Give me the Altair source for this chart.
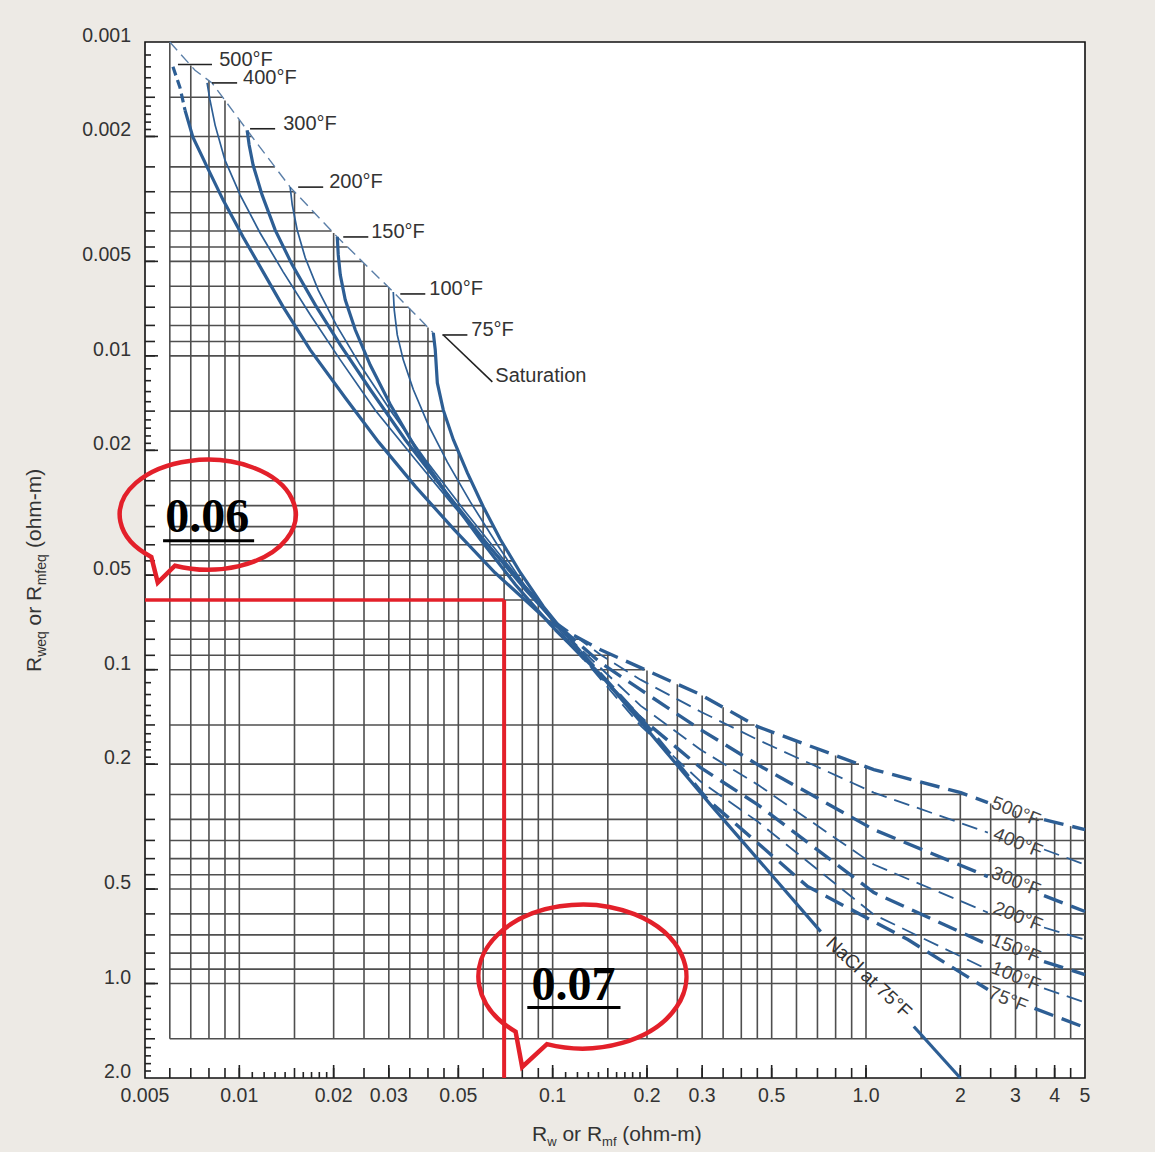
import numpy as np
import pandas as pd
import altair as alt

W, H = 940, 1036
BLUE = "#2d5e94"
GRIDC = "#4f4f4f"
RED = "#e3202a"
FONT = "Liberation Sans"
X_DOMAIN = [0.005, 5]
Y_DOMAIN = [0.001, 2.0]

# ---------------- axis labels ----------------
X_LABEL_VALUES = [0.005, 0.01, 0.02, 0.03, 0.05, 0.1, 0.2, 0.3, 0.5, 1.0, 2, 3, 4, 5]
X_LABEL_TEXT = ["0.005", "0.01", "0.02", "0.03", "0.05", "0.1", "0.2", "0.3", "0.5", "1.0", "2", "3", "4", "5"]
Y_LABEL_VALUES = [0.001, 0.002, 0.005, 0.01, 0.02, 0.05, 0.1, 0.2, 0.5, 1.0, 2.0]
Y_LABEL_TEXT = ["0.001", "0.002", "0.005", "0.01", "0.02", "0.05", "0.1", "0.2", "0.5", "1.0", "2.0"]

# ---------------- chart grid ----------------
GRID_X = [0.006, 0.007, 0.008, 0.009, 0.01, 0.015, 0.02, 0.025, 0.03, 0.035, 0.04, 0.045,
          0.05, 0.06, 0.07, 0.08, 0.09, 0.1, 0.15, 0.2, 0.25, 0.3, 0.35, 0.4, 0.45, 0.5,
          0.6, 0.7, 0.8, 0.9, 1.0, 1.5, 2.0, 2.5, 3.0, 3.5, 4.0, 4.5]
GRID_Y = [0.0015, 0.002, 0.0025, 0.003, 0.0035, 0.004, 0.0045, 0.005, 0.006, 0.007, 0.008,
          0.009, 0.01, 0.015, 0.02, 0.025, 0.03, 0.035, 0.04, 0.045, 0.05, 0.06, 0.07, 0.08,
          0.09, 0.1, 0.15, 0.2, 0.25, 0.3, 0.35, 0.4, 0.45, 0.5, 0.6, 0.7, 0.8, 0.9, 1.0, 1.5]
MINOR_X = [0.011, 0.012, 0.013, 0.014, 0.016, 0.017, 0.018, 0.019,
           0.11, 0.12, 0.13, 0.14, 0.16, 0.17, 0.18, 0.19]
MINOR_Y = [0.0011, 0.0012, 0.0013, 0.0014, 0.0016, 0.0017, 0.0018, 0.0019,
           0.011, 0.012, 0.013, 0.014, 0.016, 0.017, 0.018, 0.019,
           0.11, 0.12, 0.13, 0.14, 0.16, 0.17, 0.18, 0.19,
           1.1, 1.2, 1.3, 1.4, 1.6, 1.7, 1.8, 1.9]

# ---------------- saturation line ----------------
SAT_X = [0.006, 0.00722, 0.00818, 0.01059, 0.01453, 0.02054, 0.031, 0.0416]
SAT_Y = [0.001, 0.00123, 0.00135, 0.00191, 0.0029, 0.00418, 0.00626, 0.00845]

# ---------------- temperature curves (Rw, Rweq) ----------------
T500_TOP_X = [0.00614, 0.00647, 0.00671]
T500_TOP_Y = [0.0012, 0.0014, 0.00165]
T500_SOLID_X = [0.00671, 0.00711, 0.00789, 0.00888, 0.01028, 0.01191, 0.0138, 0.01684, 0.02178,
                0.0278, 0.0365, 0.0485, 0.0655, 0.0835, 0.097]
T500_SOLID_Y = [0.00165, 0.00201, 0.0025, 0.00319, 0.00418, 0.0054, 0.00698, 0.00957, 0.0136,
                0.0188, 0.0261, 0.0358, 0.0491, 0.0612, 0.0703]
T500_DASH_X = [0.097, 0.1422, 0.1907, 0.2967, 0.451, 1.059, 2.008, 2.449]
T500_DASH_Y = [0.0703, 0.0864, 0.0985, 0.1201, 0.1519, 0.2082, 0.2465, 0.2652]
T500_END_X = [3.7, 5.0]
T500_END_Y = [0.3005, 0.3233]

T400_SOLID_X = [0.00789, 0.00806, 0.00837, 0.009, 0.01006, 0.01165, 0.0138, 0.01684, 0.021,
                0.02715, 0.03645, 0.0489, 0.0656, 0.0849, 0.102]
T400_SOLID_Y = [0.00135, 0.00153, 0.00184, 0.00238, 0.00307, 0.00406, 0.0054, 0.0074, 0.0103,
                0.0149, 0.0214, 0.0305, 0.0424, 0.0564, 0.0703]
T400_DASH_X = [0.102, 0.1422, 0.1907, 0.2967, 0.451, 1.059, 2.449]
T400_DASH_Y = [0.0703, 0.0896, 0.1076, 0.1361, 0.1671, 0.2465, 0.3304]
T400_END_X = [3.7, 5.0]
T400_END_Y = [0.374, 0.4178]

T300_SOLID_X = [0.01059, 0.01075, 0.01107, 0.01182, 0.01301, 0.01475, 0.01747, 0.021, 0.02617,
                0.03385, 0.04545, 0.061, 0.0819, 0.1059]
T300_SOLID_Y = [0.00191, 0.00213, 0.00247, 0.00307, 0.00397, 0.00513, 0.00688, 0.00923, 0.0128,
                0.0185, 0.0271, 0.0391, 0.0556, 0.0735]
T300_DASH_X = [0.1059, 0.1422, 0.1907, 0.2967, 0.451, 1.059, 2.449]
T300_DASH_Y = [0.0735, 0.095, 0.1158, 0.1553, 0.2007, 0.3233, 0.4564]
T300_END_X = [3.7, 5.0]
T300_END_Y = [0.5245, 0.5897]

T200_SOLID_X = [0.01453, 0.01475, 0.0153, 0.01623, 0.01786, 0.02039, 0.02432, 0.03033, 0.03922,
                0.05264, 0.07065, 0.0914, 0.1099]
T200_SOLID_Y = [0.0029, 0.0033, 0.00397, 0.00487, 0.00617, 0.00797, 0.0107, 0.0149, 0.0214,
                0.0314, 0.0453, 0.0621, 0.0774]
T200_DASH_X = [0.1099, 0.1907, 0.2967, 0.451, 1.059, 2.449]
T200_DASH_Y = [0.0774, 0.1302, 0.1798, 0.2324, 0.4178, 0.5941]
T200_END_X = [3.7, 5.0]
T200_END_Y = [0.663, 0.7244]

T150_SOLID_X = [0.02054, 0.02069, 0.021, 0.02178, 0.02344, 0.02617, 0.03033, 0.03645, 0.04545,
                0.0588, 0.0761, 0.0984, 0.114]
T150_SOLID_Y = [0.00418, 0.00477, 0.00552, 0.00663, 0.00826, 0.0107, 0.0143, 0.0196, 0.0271,
                0.0385, 0.0536, 0.0719, 0.0832]
T150_DASH_X = [0.114, 0.1907, 0.2967, 0.451, 1.059, 2.449]
T150_DASH_Y = [0.0832, 0.1422, 0.2052, 0.2691, 0.513, 0.7514]
T150_END_X = [3.7, 5.0]
T150_END_Y = [0.851, 0.9364]

T100_SOLID_X = [0.031, 0.03122, 0.03192, 0.03336, 0.03591, 0.0401, 0.04612, 0.0546, 0.0666,
                0.0831, 0.102, 0.1183]
T100_SOLID_Y = [0.00626, 0.00714, 0.00858, 0.0103, 0.0128, 0.0166, 0.0218, 0.0292, 0.04,
                0.0556, 0.0719, 0.0864]
T100_DASH_X = [0.1183, 0.1907, 0.2967, 0.451, 1.059, 2.449]
T100_DASH_Y = [0.0864, 0.1508, 0.2273, 0.3048, 0.603, 0.9027]
T100_END_X = [3.7, 5.0]
T100_END_Y = [1.037, 1.149]

T75_SOLID_X = [0.0416, 0.0422, 0.04285, 0.04478, 0.0482, 0.05344, 0.0601, 0.0681, 0.0789,
               0.0935, 0.1059, 0.1227]
T75_SOLID_Y = [0.00845, 0.00957, 0.0122, 0.0149, 0.0185, 0.0236, 0.0303, 0.0385, 0.0491,
               0.063, 0.0735, 0.0876]
T75_DASH_X = [0.1227, 0.1907, 0.3123, 0.6516, 1.36, 2.449]
T75_DASH_Y = [0.0876, 0.1422, 0.2594, 0.491, 0.7244, 1.045]
T75_END_X = [3.45, 5.0]
T75_END_Y = [1.2, 1.381]

NACL_X = [0.102, 0.1422, 0.1907, 0.319, 0.717]
NACL_Y = [0.0746, 0.1037, 0.1464, 0.2691, 0.6831]
NACL_END_X = [1.421, 2.0]
NACL_END_Y = [1.371, 2.0]

# ---------------- annotations ----------------
TOP_LABELS = ["500°F", "400°F", "300°F", "200°F", "150°F", "100°F", "75°F"]
TOP_LABEL_X = [0.00856, 0.0102, 0.0137, 0.01922, 0.02617, 0.0401, 0.0546]
TOP_LABEL_Y = [0.00118, 0.00135, 0.00189, 0.0029, 0.00418, 0.00635, 0.00858]
LEADER_X1 = [0.00637, 0.00818, 0.01082, 0.01541, 0.02146, 0.03264, 0.04446]
LEADER_X2 = [0.00818, 0.00984, 0.01301, 0.01852, 0.0258, 0.03922, 0.05344]

SAT_LABEL = "Saturation"
SAT_LEADER_X = [0.04478, 0.0642]
SAT_LEADER_Y = [0.00858, 0.0121]
SAT_LABEL_XY = [0.0656, 0.0121]

RIGHT_LABELS = ["500°F", "400°F", "300°F", "200°F", "150°F", "100°F", "75°F"]
RIGHT_X = [3.01, 3.055, 3.01, 3.055, 3.01, 3.01, 2.84]
RIGHT_Y = [0.283, 0.356, 0.473, 0.612, 0.774, 0.950, 1.125]

NACL_LABEL = "NaCl at 75°F"
NACL_LABEL_XY = [1.021, 0.957]

READ_RW = 0.07
READ_RWEQ = 0.06
BUBBLE_TEXT = ["0.06", "0.07"]
BUBBLE_X = [0.00794, 0.1245]
BUBBLE_Y = [0.0321, 0.950]
BUBBLE_TEXT_X = [0.0079, 0.1165]
BUBBLE_TEXT_Y = [0.03635, 1.125]
UNDERLINE_X1 = [0.00571, 0.083]
UNDERLINE_X2 = [0.01115, 0.1646]
UNDERLINE_Y = [0.0388, 1.192]

# ---------------- helpers ----------------
xs = alt.Scale(type="log", domain=X_DOMAIN, nice=False)
ys = alt.Scale(type="log", domain=Y_DOMAIN, reverse=True, nice=False)


def X(f):
    return alt.X(f, type="quantitative", scale=xs, axis=None)


def Y(f):
    return alt.Y(f, type="quantitative", scale=ys, axis=None)


env_curves = [
    (SAT_X, SAT_Y),
    (T500_TOP_X + T500_SOLID_X + T500_DASH_X + T500_END_X, T500_TOP_Y + T500_SOLID_Y + T500_DASH_Y + T500_END_Y),
    (T400_SOLID_X + T400_DASH_X + T400_END_X, T400_SOLID_Y + T400_DASH_Y + T400_END_Y),
    (T300_SOLID_X + T300_DASH_X + T300_END_X, T300_SOLID_Y + T300_DASH_Y + T300_END_Y),
    (T200_SOLID_X + T200_DASH_X + T200_END_X, T200_SOLID_Y + T200_DASH_Y + T200_END_Y),
    (T150_SOLID_X + T150_DASH_X + T150_END_X, T150_SOLID_Y + T150_DASH_Y + T150_END_Y),
    (T100_SOLID_X + T100_DASH_X + T100_END_X, T100_SOLID_Y + T100_DASH_Y + T100_END_Y),
    (T75_SOLID_X + T75_DASH_X + T75_END_X, T75_SOLID_Y + T75_DASH_Y + T75_END_Y),
]


def grid_top(xg):
    lxg = np.log10(xg)
    vals = []
    for cx, cy in env_curves:
        lx, ly = np.log10(cx), np.log10(cy)
        if lx[0] - 1e-6 <= lxg <= lx[-1] + 1e-6:
            vals.append(np.interp(lxg, lx, ly))
    return 10 ** min(vals) if vals else Y_DOMAIN[0]


def grid_right(yg):
    lyg = np.log10(yg)
    vals = []
    for cx, cy in env_curves:
        lx, ly = np.log10(cx), np.log10(cy)
        if ly[0] - 1e-6 <= lyg <= ly[-1] + 1e-6:
            vals.append(np.interp(lyg, ly, lx))
        elif lyg > ly[-1] and cx[-1] >= 4.99:
            vals.append(np.log10(X_DOMAIN[1]))
    return min(10 ** max(vals), X_DOMAIN[1]) if vals else X_DOMAIN[1]


GRID_BOTTOM = GRID_Y[-1]
GRID_LEFT = GRID_X[0]

vgrid = pd.DataFrame({"x": GRID_X, "y1": [grid_top(v) for v in GRID_X], "y2": GRID_BOTTOM})
hgrid = pd.DataFrame({"y": GRID_Y, "x1": GRID_LEFT, "x2": [grid_right(v) for v in GRID_Y]})

layers = []

# grid
layers.append(alt.Chart(vgrid).mark_rule(color=GRIDC, strokeWidth=1.6).encode(
    x=X("x"), y=Y("y1"), y2=alt.Y2("y2")))
layers.append(alt.Chart(hgrid).mark_rule(color=GRIDC, strokeWidth=1.6).encode(
    y=Y("y"), x=X("x1"), x2=alt.X2("x2")))

# tick labels (drawn through the scales)
xl = pd.DataFrame({"x": X_LABEL_VALUES, "t": X_LABEL_TEXT})
layers.append(alt.Chart(xl).mark_text(align="center", baseline="top", font=FONT, fontSize=19.5,
                                      color="#333333").encode(
    x=X("x"), y=alt.value(H + 9), text="t:N"))
yl = pd.DataFrame({"y": Y_LABEL_VALUES, "t": Y_LABEL_TEXT})
layers.append(alt.Chart(yl).mark_text(align="right", baseline="alphabetic", font=FONT, fontSize=19.5,
                                      color="#333333").encode(
    y=Y("y"), x=alt.value(-14), text="t:N"))

# inward ticks
major_x = pd.DataFrame({"x": X_LABEL_VALUES[1:-1]})
grid_tx = pd.DataFrame({"x": GRID_X})
minor_tx = pd.DataFrame({"x": MINOR_X})
for df, ln in [(major_x, 13), (grid_tx, 10), (minor_tx, 6)]:
    layers.append(alt.Chart(df).mark_rule(color="#222222", strokeWidth=1.6).encode(
        x=X("x"), y=alt.value(H), y2=alt.value(H - ln)))
major_y = pd.DataFrame({"y": Y_LABEL_VALUES[1:-1]})
grid_ty = pd.DataFrame({"y": GRID_Y})
minor_ty = pd.DataFrame({"y": MINOR_Y})
for df, ln in [(major_y, 13), (grid_ty, 10), (minor_ty, 6)]:
    layers.append(alt.Chart(df).mark_rule(color="#222222", strokeWidth=1.6).encode(
        y=Y("y"), x=alt.value(0), x2=alt.value(ln)))


def curve_df(parts):
    rows = []
    for name, cx, cy in parts:
        for i, (a, b) in enumerate(zip(cx, cy)):
            rows.append({"series": name, "ord": i, "x": a, "y": b})
    return pd.DataFrame(rows)


def line_layer(parts, width, dash=None, color=BLUE):
    kw = dict(color=color, strokeWidth=width)
    if dash is not None:
        kw["strokeDash"] = dash
    return alt.Chart(curve_df(parts)).mark_line(**kw).encode(
        x=X("x"), y=Y("y"), detail="series:N", order="ord:Q")


# saturation
layers.append(line_layer([("sat", SAT_X, SAT_Y)], 1.4, [11, 6], "#5b7fa8"))

thick_solid = [("500s", T500_SOLID_X, T500_SOLID_Y), ("300s", T300_SOLID_X, T300_SOLID_Y),
               ("150s", T150_SOLID_X, T150_SOLID_Y), ("75s", T75_SOLID_X, T75_SOLID_Y),
               ("nacl", NACL_X, NACL_Y), ("nacl2", NACL_END_X, NACL_END_Y)]
thin_solid = [("400s", T400_SOLID_X, T400_SOLID_Y), ("200s", T200_SOLID_X, T200_SOLID_Y),
              ("100s", T100_SOLID_X, T100_SOLID_Y)]
thick_dash = [("500d", T500_DASH_X, T500_DASH_Y), ("500e", T500_END_X, T500_END_Y),
              ("300d", T300_DASH_X, T300_DASH_Y), ("300e", T300_END_X, T300_END_Y),
              ("150d", T150_DASH_X, T150_DASH_Y), ("150e", T150_END_X, T150_END_Y),
              ("75d", T75_DASH_X, T75_DASH_Y), ("75e", T75_END_X, T75_END_Y)]
thin_dash = [("400d", T400_DASH_X, T400_DASH_Y), ("400e", T400_END_X, T400_END_Y),
             ("200d", T200_DASH_X, T200_DASH_Y), ("200e", T200_END_X, T200_END_Y),
             ("100d", T100_DASH_X, T100_DASH_Y), ("100e", T100_END_X, T100_END_Y)]

layers.append(line_layer(thin_solid, 1.7))
layers.append(line_layer(thick_solid, 3.2))
layers.append(line_layer(thin_dash, 1.8, [16, 8]))
layers.append(line_layer(thick_dash, 3.4, [20, 9]))
layers.append(line_layer([("500t", T500_TOP_X, T500_TOP_Y)], 3.2, [9, 5]))

# leaders and top labels
lead = pd.DataFrame({"x1": LEADER_X1, "x2": LEADER_X2, "y": TOP_LABEL_Y})
layers.append(alt.Chart(lead).mark_rule(color="#222222", strokeWidth=1.6).encode(
    x=X("x1"), x2=alt.X2("x2"), y=Y("y")))
tl = pd.DataFrame({"x": TOP_LABEL_X, "y": TOP_LABEL_Y, "t": TOP_LABELS})
layers.append(alt.Chart(tl).mark_text(align="left", baseline="alphabetic", font=FONT,
                                      fontSize=20, color="#333333", dx=1, dy=1).encode(
    x=X("x"), y=Y("y"), text="t:N"))
sl = pd.DataFrame({"x1": [SAT_LEADER_X[0]], "x2": [SAT_LEADER_X[1]],
                   "y1": [SAT_LEADER_Y[0]], "y2": [SAT_LEADER_Y[1]]})
layers.append(alt.Chart(sl).mark_rule(color="#222222", strokeWidth=1.6).encode(
    x=X("x1"), x2=alt.X2("x2"), y=Y("y1"), y2=alt.Y2("y2")))
st = pd.DataFrame({"x": [SAT_LABEL_XY[0]], "y": [SAT_LABEL_XY[1]], "t": [SAT_LABEL]})
layers.append(alt.Chart(st).mark_text(align="left", baseline="alphabetic", font=FONT,
                                      fontSize=20, color="#333333").encode(
    x=X("x"), y=Y("y"), text="t:N"))

# right labels
rl = pd.DataFrame({"x": RIGHT_X, "y": RIGHT_Y, "t": RIGHT_LABELS})
layers.append(alt.Chart(rl).mark_text(align="center", baseline="middle", font=FONT,
                                      fontSize=19, color="#444444", angle=22).encode(
    x=X("x"), y=Y("y"), text="t:N"))
nl = pd.DataFrame({"x": [NACL_LABEL_XY[0]], "y": [NACL_LABEL_XY[1]], "t": [NACL_LABEL]})
layers.append(alt.Chart(nl).mark_text(align="center", baseline="middle", font=FONT,
                                      fontSize=19, color="#333333", angle=43).encode(
    x=X("x"), y=Y("y"), text="t:N"))

# red reading lines
rh = pd.DataFrame({"x1": [X_DOMAIN[0]], "x2": [READ_RW], "y": [READ_RWEQ]})
layers.append(alt.Chart(rh).mark_rule(color=RED, strokeWidth=3.5).encode(
    x=X("x1"), x2=alt.X2("x2"), y=Y("y")))
rv = pd.DataFrame({"x": [READ_RW], "y1": [READ_RWEQ], "y2": [Y_DOMAIN[1]]})
layers.append(alt.Chart(rv).mark_rule(color=RED, strokeWidth=4).encode(
    x=X("x"), y=Y("y1"), y2=alt.Y2("y2")))

# speech bubbles
BUBBLE1 = "M -0.375 0.579 A 1 0.625 0 1 0 -0.643 0.479 L -0.57 0.77 Z"
BUBBLE2 = "M -0.342 0.650 A 1 0.692 0 1 0 -0.643 0.530 L -0.58 0.87 Z"
for i, (shape, rx) in enumerate([(BUBBLE1, 88), (BUBBLE2, 104)]):
    bd = pd.DataFrame({"x": [BUBBLE_X[i]], "y": [BUBBLE_Y[i]]})
    layers.append(alt.Chart(bd).mark_point(shape=shape, size=(2 * rx) ** 2, filled=False,
                                           color=RED, strokeWidth=4.5, opacity=1).encode(
        x=X("x"), y=Y("y")))
bt = pd.DataFrame({"x": BUBBLE_TEXT_X, "y": BUBBLE_TEXT_Y, "t": BUBBLE_TEXT})
layers.append(alt.Chart(bt).mark_text(align="center", baseline="alphabetic",
                                      font="Liberation Serif", fontWeight="bold",
                                      fontSize=48, color="#000000").encode(
    x=X("x"), y=Y("y"), text="t:N"))
ul = pd.DataFrame({"x1": UNDERLINE_X1, "x2": UNDERLINE_X2, "y": UNDERLINE_Y})
layers.append(alt.Chart(ul).mark_rule(color="#000000", strokeWidth=3).encode(
    x=X("x1"), x2=alt.X2("x2"), y=Y("y")))

# axis titles built from pieces (subscripts)
one = pd.DataFrame({"a": [0]})


def piece(text, px, py, size, angle=0):
    kw = dict(text=text, align="left", baseline="alphabetic", font=FONT, fontSize=size,
              color="#333333")
    if angle:
        kw["angle"] = angle
    return alt.Chart(one).mark_text(**kw).encode(x=alt.value(px), y=alt.value(py))


XT = [("R", 387, 1099, 21), ("w", 402.2, 1104, 13), ("or R", 417.4, 1099, 21),
      ("mf", 457.1, 1104, 13), ("(ohm-m)", 477.3, 1099, 21)]
YT = [("R", -104, 630, 21), ("weq", -99, 614.8, 14), ("or R", -104, 583.5, 21),
      ("mfeq", -99, 543.3, 14), ("(ohm-m)", -104, 506, 21)]
for t, px, py, s in XT:
    layers.append(piece(t, px, py, s))
for t, px, py, s in YT:
    layers.append(piece(t, px, py, s, 270))

chart = alt.layer(*layers).properties(
    width=W, height=H,
    autosize=alt.AutoSizeParams(type="none"),
    padding={"left": 145, "top": 42, "right": 70, "bottom": 74},
    background="#edeae5",
).configure_view(stroke="#111111", strokeWidth=1.6, fill="white")

chart.save("out.html", embed_options={"renderer": "svg", "actions": False})
